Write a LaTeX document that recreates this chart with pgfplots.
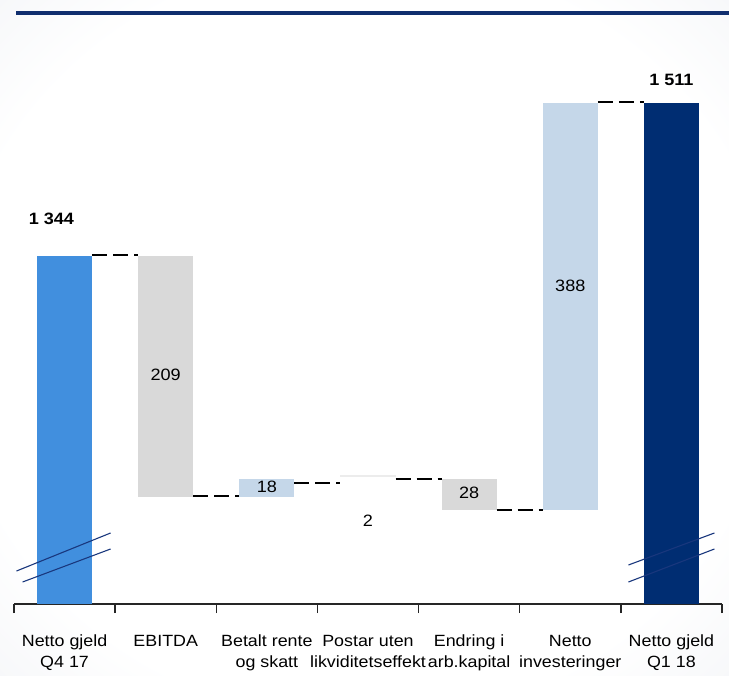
\documentclass[border=0pt]{standalone}
\usepackage{fontspec}
\setmainfont{Liberation Sans}[FakeStretch=1.1]
\usepackage{pgfplots}
\usepackage{pgfplotstable}
\pgfplotsset{compat=1.18}

\definecolor{startblue}{RGB}{65,143,222}
\definecolor{lightblue}{RGB}{197,215,233}
\definecolor{midgrey}{RGB}{217,217,217}
\definecolor{palegrey}{RGB}{236,236,236}
\definecolor{navy}{RGB}{0,45,114}
\definecolor{rulenavy}{RGB}{16,46,110}
\definecolor{bgedge}{RGB}{208,214,225}
\definecolor{breakblue}{RGB}{25,55,125}

\pgfdeclareradialshading{bgshade}{\pgfpoint{0bp}{0bp}}{%
  color(0bp)=(white); color(28bp)=(white); color(72bp)=(bgedge)}

% waterfall in drawn units (the source chart is not to scale)
\pgfplotstableread{
x base start ebitda rente postar arb invest end
0 0   348  0   0  0  0  0   0
1 107 0    241 0  0  0  0   0
2 107 0    0   18 0  0  0   0
3 127 0    0   0  2  0  0   0
4 94  0    0   0  0  31 0   0
5 94  0    0   0  0  0  407 0
6 0   0    0   0  0  0  0   501
}\wf

\pgfplotsset{
  wfbox/.style={at={(14bp,72bp)}, anchor=south west, scale only axis,
    width=708bp, height=590bp, xmin=-0.5, xmax=6.5, ymin=0, ymax=590,
    clip=false, enlargelimits=false},
  conn/.style={black, line width=2bp, dash pattern=on 15bp off 6bp, forget plot},
  brk/.style={breakblue, line width=1.1bp, forget plot},
}

\begin{document}
\begin{tikzpicture}
\useasboundingbox (0,0) rectangle (729bp,676bp);
\shade[shading=bgshade] (0,0) rectangle (729bp,676bp);
\draw[rulenavy, line width=3.2bp] (16bp,663bp) -- (729bp,663bp);

\begin{axis}[wfbox,
    ybar stacked, bar width=0.544,
    axis x line=bottom, axis y line=none,
    axis line style={-, black!85, line width=1.3bp},
    xtick={0,...,6}, major tick length=0,
    minor xtick={-0.5,0.5,1.5,2.5,3.5,4.5,5.5,6.5},
    minor tick length=9bp, tick align=outside,
    minor tick style={black!85, line width=1.3bp},
    ytick=\empty,
    xticklabels={Netto gjeld\\Q4 17, EBITDA, Betalt rente\\og skatt,
      Postar uten\\likviditetseffekt, Endring i\\arb.kapital,
      Netto\\investeringer, Netto gjeld\\Q1 18},
    xticklabel style={align=center, font=\fontsize{16.3}{21}\selectfont, yshift=-27.5bp},
  ]
  \addplot[draw=none, fill=none] table[x=x, y=base] {\wf};
  \addplot[draw=none, fill=startblue] table[x=x, y=start] {\wf};
  \addplot[draw=none, fill=midgrey] table[x=x, y=ebitda] {\wf};
  \addplot[draw=none, fill=lightblue] table[x=x, y=rente] {\wf};
  \addplot[draw=none, fill=palegrey] table[x=x, y=postar] {\wf};
  \addplot[draw=none, fill=midgrey] table[x=x, y=arb] {\wf};
  \addplot[draw=none, fill=lightblue] table[x=x, y=invest] {\wf};
  \addplot[draw=none, fill=navy] table[x=x, y=end] {\wf};
\end{axis}

\begin{axis}[wfbox, hide axis]
  % dashed connectors between bars
  \addplot[conn] coordinates {(0.272,349) (0.728,349)};
  \addplot[conn] coordinates {(1.272,108) (1.728,108)};
  \addplot[conn] coordinates {(2.272,121) (2.728,121)};
  \addplot[conn] coordinates {(3.272,125) (3.728,125)};
  \addplot[conn] coordinates {(4.272,94) (4.728,94)};
  \addplot[conn] coordinates {(5.272,502) (5.728,502)};
  % axis break marks
  \addplot[brk] coordinates {(-0.475,33) (0.455,71)};
  \addplot[brk] coordinates {(-0.415,22) (0.455,55)};
  \addplot[brk] coordinates {(5.575,39) (6.425,71)};
  \addplot[brk] coordinates {(5.575,22) (6.425,55)};
  % value labels
  \begin{scope}[font=\fontsize{16.5}{20}\selectfont]
    \node at (axis cs:1,229) {209};
    \node at (axis cs:2,117) {18};
    \node at (axis cs:3,83) {2};
    \node at (axis cs:4,111.5) {28};
    \node at (axis cs:5,318.5) {388};
    \node[font=\fontsize{16.5}{20}\selectfont\bfseries] at (axis cs:-0.13,385) {1 344};
    \node[font=\fontsize{16.5}{20}\selectfont\bfseries] at (axis cs:6,524) {1 511};
  \end{scope}
\end{axis}
\end{tikzpicture}
\end{document}
